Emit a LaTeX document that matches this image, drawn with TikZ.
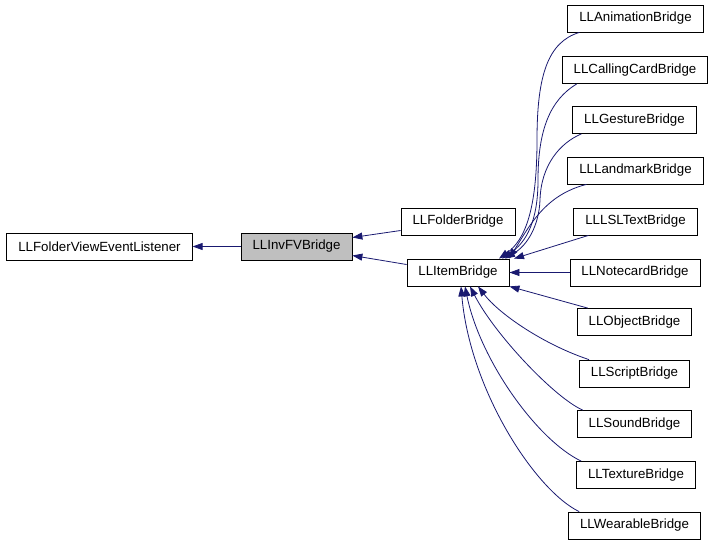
\documentclass[tikz,border=0pt]{standalone}
\usepackage{fontspec}
\setmainfont{Liberation Sans}
\usetikzlibrary{arrows.meta}
\definecolor{edgeblue}{HTML}{191970}
\begin{document}
\begin{tikzpicture}[x=1pt, y=-1pt, >={Triangle[length=10pt,width=7pt]}, cls/.style={draw, fill=white, rectangle, line width=0.8pt, minimum height=27pt, inner xsep=11.5pt, font=\fontsize{13.3}{16}\selectfont}, edge/.style={->, color=edgeblue, line width=0.8pt}]
  \useasboundingbox (0,0) rectangle (712,544);
  \node [cls] (lst) at (99.5,246.5) {LLFolderViewEventListener};
  \node [cls, fill=black!25] (inv) at (296.5,246.5) {LLInvFVBridge};
  \node [cls] (fld) at (458,221.5) {LLFolderBridge};
  \node [cls] (itm) at (458,272.5) {LLItemBridge};
  \node [cls] (ani) at (635.5,18.5) {LLAnimationBridge};
  \node [cls] (cal) at (635,70) {LLCallingCardBridge};
  \node [cls] (ges) at (634.5,120) {LLGestureBridge};
  \node [cls] (lmk) at (635.5,170.5) {LLLandmarkBridge};
  \node [cls] (lsl) at (635.5,221.5) {LLLSLTextBridge};
  \node [cls] (nte) at (635,272.5) {LLNotecardBridge};
  \node [cls] (obj) at (634.5,322) {LLObjectBridge};
  \node [cls] (scr) at (634.5,373.5) {LLScriptBridge};
  \node [cls] (snd) at (634.5,424) {LLSoundBridge};
  \node [cls] (tex) at (636,475) {LLTextureBridge};
  \node [cls] (wea) at (634.5,525.5) {LLWearableBridge};

  \draw [edge] (inv) -- (lst);
  \draw [edge] ([yshift=-9pt]fld.west) -- ([yshift=9pt]inv.east);
  \draw [edge] ([yshift=8pt]itm.west) -- ([yshift=-9pt]inv.east);

  \draw [edge] ([xshift=12pt]ani.south west) .. controls (548,42) and (537,75) .. (537,140) .. controls (537,210) and (525,240) .. ([xshift=41pt]itm.north);
  \draw [edge] ([xshift=15pt]cal.south west) .. controls (550,100) and (538,130) .. (538,180) .. controls (538,220) and (527,242) .. ([xshift=44pt]itm.north);
  \draw [edge] ([xshift=9pt]ges.south west) .. controls (560,143) and (541,165) .. (540,200) .. controls (539,225) and (528,245) .. ([xshift=47pt]itm.north);
  \draw [edge] ([xshift=19pt]lmk.south west) .. controls (545,195) and (530,225) .. ([xshift=51pt]itm.north);
  \draw [edge] ([xshift=15pt]lsl.south west) -- ([xshift=56pt]itm.north);
  \draw [edge] (nte.west) -- (itm.east);
  \draw [edge] ([xshift=11pt]obj.north west) -- (itm.south east);
  \draw [edge] ([xshift=10pt]scr.north west) .. controls (545,345) and (500,315) .. ([xshift=20pt]itm.south);
  \draw [edge] ([xshift=6pt]snd.north west) .. controls (555,398) and (495,335) .. ([xshift=12pt]itm.south);
  \draw [edge] ([xshift=5pt]tex.north west) .. controls (537,440) and (480,360) .. ([xshift=7pt]itm.south);
  \draw [edge] ([xshift=11pt]wea.north west) .. controls (535,490) and (470,390) .. ([xshift=3pt]itm.south);
\end{tikzpicture}
\end{document}
